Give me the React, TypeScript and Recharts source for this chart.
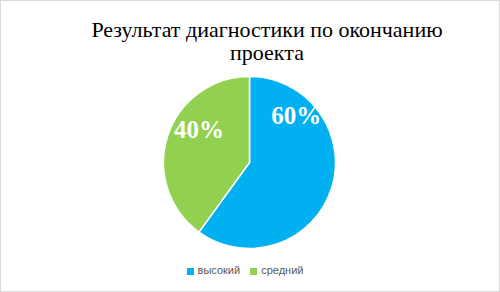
import { Cell, Legend, Pie, PieChart } from 'recharts'

const categories = ['высокий', 'средний']
const values = [60, 40]
const colors = ['#00B0F0', '#92D050']
const title = ['Результат диагностики по окончанию', 'проекта']

const data = categories.map((name, i) => ({ name, value: values[i] }))

// where Excel put the labels inside the slices (degrees, fraction of radius)
const LABEL_ANGLE = [45, 147]
const LABEL_R = [0.77, 0.7]

const RAD = Math.PI / 180

function renderLabel(props: any) {
  const { cx, cy, outerRadius, index, percent } = props
  const a = LABEL_ANGLE[index] * RAD
  const r = outerRadius * LABEL_R[index]
  return (
    <text
      x={cx + r * Math.cos(a)}
      y={cy - r * Math.sin(a)}
      fill="#fff"
      textAnchor="middle"
      dominantBaseline="central"
      style={{ fontFamily: '"Liberation Serif", serif', fontWeight: 'bold', fontSize: 25 }}
    >
      {Math.round(percent * 100) + '%'}
    </text>
  )
}

export default function App() {
  return (
    <div
      style={{
        position: 'absolute',
        left: 0,
        top: 0,
        width: 500,
        height: 292,
        boxSizing: 'border-box',
        border: '1px solid #d9d9d9',
        background: '#fff',
      }}
    >
      <div
        style={{
          position: 'absolute',
          left: 0,
          top: 17,
          width: 532,
          textAlign: 'center',
          fontFamily: '"Liberation Serif", serif',
          fontSize: 22,
          lineHeight: '23px',
          color: '#000',
        }}
      >
        {title[0]}
        <br />
        {title[1]}
      </div>
      <div style={{ position: 'absolute', left: -1, top: -1 }}>
        <PieChart width={500} height={292} margin={{ top: 0, right: 0, bottom: 0, left: 0 }}>
          <Pie
            data={data}
            dataKey="value"
            nameKey="name"
            cx={249.5}
            cy={162.5}
            outerRadius={86}
            startAngle={90}
            endAngle={-270}
            stroke="#fff"
            strokeWidth={1.5}
            label={renderLabel}
            labelLine={false}
            isAnimationActive={false}
          >
            {data.map((d, i) => (
              <Cell key={d.name} fill={colors[i]} />
            ))}
          </Pie>
          <Legend
            iconType="square"
            iconSize={7}
            align="center"
            verticalAlign="bottom"
            wrapperStyle={{
              top: 264,
              bottom: 'auto',
              fontFamily: '"Liberation Sans", sans-serif',
              fontSize: 11,
            }}
            formatter={(v: string) => <span style={{ color: '#595959' }}>{v}</span>}
          />
        </PieChart>
      </div>
    </div>
  )
}
